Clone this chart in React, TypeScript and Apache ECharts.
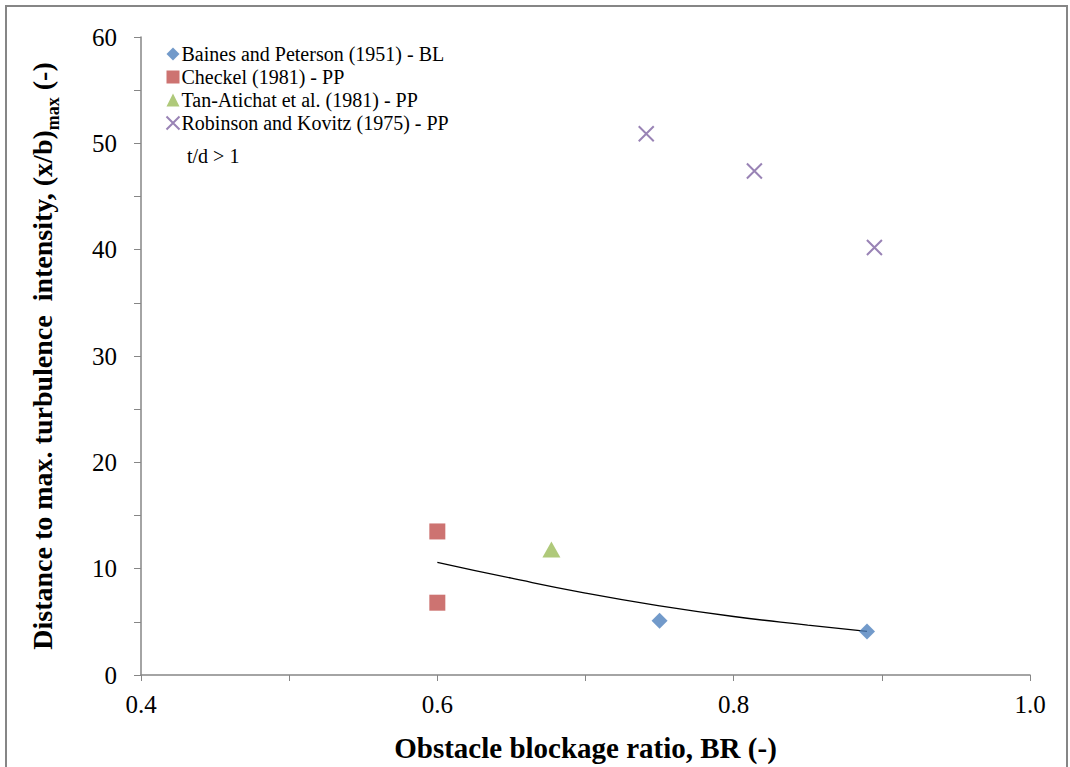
import React, { useEffect, useRef } from "react";
import * as echarts from "echarts";

const bainesData: [number, number][] = [[0.75, 5.1], [0.89, 4.1]];
const checkelData: [number, number][] = [[0.6, 13.5], [0.6, 6.8]];
const tanData: [number, number][] = [[0.677, 11.8]];
const robinsonData: [number, number][] = [[0.741, 50.9], [0.814, 47.4], [0.895, 40.2]];
const trendData: [number, number][] = [
  [0.6, 10.6], [0.65, 9.1], [0.7, 7.7], [0.75, 6.5], [0.8, 5.5], [0.85, 4.7], [0.89, 4.1],
];
const seriesNames = [
  "Baines and Peterson (1951) - BL",
  "Checkel (1981) - PP",
  "Tan-Atichat et al. (1981) - PP",
  "Robinson and Kovitz (1975) - PP",
];

const FONT = "Liberation Serif";
const CROSS = "path://M0,0L10,10M10,0L0,10";

export default function App() {
  const ref = useRef<HTMLDivElement>(null);
  useEffect(() => {
    document.body.style.margin = "0";
    const chart = echarts.init(ref.current!, null, { renderer: "svg" });
    chart.setOption({
      animation: false,
      backgroundColor: "#fff",
      textStyle: { fontFamily: FONT },
      grid: { left: 141, right: 40, top: 37, bottom: 92 },
      graphic: [
        {
          type: "rect",
          shape: { x: 6, y: 6, width: 1061, height: 800 },
          style: { fill: "none", stroke: "#868686", lineWidth: 2 },
          silent: true,
        },
        {
          type: "text",
          left: 187,
          top: 146,
          style: { text: "t/d > 1", fontFamily: FONT, fontSize: 20, fill: "#000" },
        },
      ],
      legend: {
        orient: "vertical",
        left: 159,
        top: 39,
        itemWidth: 13,
        itemHeight: 13,
        itemGap: 3,
        data: seriesNames,
        textStyle: { fontFamily: FONT, fontSize: 20, lineHeight: 20, color: "#000", padding: [0, 0, 0, -3] },
      },
      xAxis: {
        type: "value",
        min: 0.4,
        max: 1.0,
        interval: 0.2,
        name: "Obstacle blockage ratio, BR (-)",
        nameLocation: "middle",
        nameGap: 58,
        nameTextStyle: { fontFamily: FONT, fontSize: 29, fontWeight: "bold", color: "#000" },
        axisLine: { lineStyle: { color: "#868686", width: 1.5 } },
        axisTick: { show: true, length: 6, lineStyle: { color: "#868686" } },
        minorTick: { show: true, splitNumber: 2, length: 6, lineStyle: { color: "#868686" } },
        axisLabel: {
          fontFamily: FONT,
          fontSize: 25,
          color: "#000",
          margin: 17,
          formatter: (v: number) => v.toFixed(1),
        },
        splitLine: { show: false },
      },
      yAxis: {
        type: "value",
        min: 0,
        max: 60,
        interval: 10,
        name: "{a|Distance to max. turbulence  intensity, (x/b)}{s|max}{a| (-)}",
        nameLocation: "middle",
        nameGap: 85,
        nameTextStyle: {
          fontFamily: FONT,
          color: "#000",
          rich: {
            a: { fontFamily: FONT, fontSize: 28, fontWeight: "bold", color: "#000", verticalAlign: "bottom" },
            s: {
              fontFamily: FONT,
              fontSize: 18,
              fontWeight: "bold",
              color: "#000",
              verticalAlign: "bottom",
              padding: [0, 0, -6, 0],
            },
          },
        },
        axisLine: { show: true, lineStyle: { color: "#868686", width: 1.5 } },
        axisTick: { show: true, length: 7, lineStyle: { color: "#868686" } },
        minorTick: { show: true, splitNumber: 2, length: 7, lineStyle: { color: "#868686" } },
        axisLabel: { fontFamily: FONT, fontSize: 25, color: "#000", margin: 24 },
        splitLine: { show: false },
      },
      series: [
        {
          name: "trend",
          type: "line",
          data: trendData,
          smooth: true,
          showSymbol: false,
          symbol: "none",
          lineStyle: { color: "#000", width: 1.3 },
          z: 1,
        },
        {
          name: seriesNames[0],
          type: "scatter",
          data: bainesData,
          symbol: "diamond",
          symbolSize: [16, 16],
          itemStyle: { color: "#4F81BD" },
          z: 3,
        },
        {
          name: seriesNames[1],
          type: "scatter",
          data: checkelData,
          symbol: "rect",
          symbolSize: 16,
          itemStyle: { color: "#C0504D" },
          z: 3,
        },
        {
          name: seriesNames[2],
          type: "scatter",
          data: tanData,
          symbol: "triangle",
          symbolSize: [18, 16],
          itemStyle: { color: "#9BBB59" },
          z: 3,
        },
        {
          name: seriesNames[3],
          type: "scatter",
          data: robinsonData,
          symbol: CROSS,
          symbolSize: 15,
          itemStyle: { color: "none", borderColor: "#8064A2", borderWidth: 2 },
          z: 3,
        },
      ],
    });
    return () => chart.dispose();
  }, []);
  return <div ref={ref} style={{ width: 1070, height: 767 }} />;
}
